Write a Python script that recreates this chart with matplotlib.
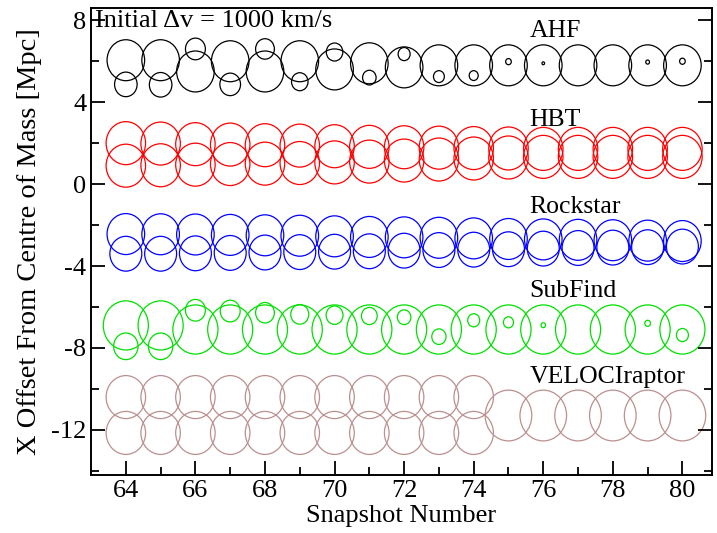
import numpy as np
import matplotlib
matplotlib.use("Agg")
import matplotlib.pyplot as plt
from matplotlib.patches import Ellipse

plt.rcParams['font.family'] = ['Liberation Serif', 'DejaVu Serif']
plt.rcParams['axes.unicode_minus'] = False

snapshots = np.arange(64, 81)
nan = np.nan

# AHF (black)
ahf_main_y = [6.05, 6.05, 5.5, 6.0, 5.5, 6.0, 5.6, 5.9, 5.7, 5.8, 5.8, 5.8, 5.8, 5.8, 5.8, 5.8, 5.8]
ahf_main_r = [1.0] * 17
ahf_sub_y = [4.87, 4.85, 6.6, 4.87, 6.6, 5.0, 6.45, 5.2, 6.35, 5.25, 5.3, 5.98, 5.9, nan, nan, 5.96, 6.0]
ahf_sub_r = [0.6, 0.6, 0.53, 0.55, 0.5, 0.44, 0.44, 0.36, 0.32, 0.29, 0.24, 0.15, 0.07, nan, nan, 0.1, 0.15]

# HBT (red)
hbt_a_y = [2.0, 1.98, 1.95, 1.93, 1.9, 1.88, 1.85, 1.82, 1.8, 1.78, 1.76, 1.74, 1.72, 1.72, 1.72, 1.72, 1.72]
hbt_a_r = [1.05] * 17
hbt_b_y = [0.9, 0.92, 0.95, 0.98, 1.0, 1.03, 1.06, 1.1, 1.15, 1.2, 1.25, 1.3, 1.33, 1.33, 1.33, 1.33, 1.33]
hbt_b_r = [1.05] * 17

# Rockstar (blue)
rock_a_y = [-2.44, -2.45, -2.46, -2.48, -2.5, -2.52, -2.55, -2.58, -2.6, -2.62, -2.65, -2.68, -2.7, -2.72, -2.74, -2.76, -2.78]
rock_a_r = [1.0] * 17
rock_b_y = [-3.4, -3.4, -3.38, -3.36, -3.34, -3.32, -3.3, -3.28, -3.25, -3.22, -3.2, -3.18, -3.15, -3.12, -3.1, -3.08, -3.05]
rock_b_r = [0.85] * 17

# SubFind (green)
sf_main_y = [-6.9, -6.9, -7.1, -7.1, -7.1, -7.1, -7.1, -7.1, -7.1, -7.1, -7.1, -7.1, -7.1, -7.1, -7.1, -7.1, -7.1]
sf_main_r = [1.2] * 17
sf_sub_y = [-7.92, -7.92, -6.16, -6.2, -6.28, -6.36, -6.4, -6.44, -6.5, -7.45, -6.65, -6.75, -6.89, nan, nan, -6.8, -7.37]
sf_sub_r = [0.65, 0.65, 0.53, 0.53, 0.5, 0.48, 0.45, 0.42, 0.36, 0.38, 0.32, 0.27, 0.12, nan, nan, 0.15, 0.32]

# VELOCIraptor (rosy brown)
vr_a_y = [-10.4] * 11 + [-11.3] * 6
vr_a_r = [1.05] * 11 + [1.24] * 6
vr_b_y = [-12.15] * 11 + [nan] * 6
vr_b_r = [1.05] * 11 + [nan] * 6

finder_names = ["AHF", "HBT", "Rockstar", "SubFind", "VELOCIraptor"]
finder_colors = ["black", "red", "blue", "#00e000", "#bc8f8f"]
label_y = [7.5, 3.15, -1.1, -5.2, -9.4]

circle_sets = [
    [(ahf_main_y, ahf_main_r), (ahf_sub_y, ahf_sub_r)],
    [(hbt_a_y, hbt_a_r), (hbt_b_y, hbt_b_r)],
    [(rock_a_y, rock_a_r), (rock_b_y, rock_b_r)],
    [(sf_main_y, sf_main_r), (sf_sub_y, sf_sub_r)],
    [(vr_a_y, vr_a_r), (vr_b_y, vr_b_r)],
]

# circles are drawn narrower in x (snapshot) than in y (Mpc)
x_per_y = 0.54

fig = plt.figure(figsize=(7.17, 5.33), dpi=100)
ax = fig.add_axes([0.127, 0.109, 0.866, 0.876])

for sets, color in zip(circle_sets, finder_colors):
    for ys, rs in sets:
        for x, y, r in zip(snapshots, ys, rs):
            if np.isnan(y):
                continue
            ax.add_patch(Ellipse((x, y), 2 * r * x_per_y, 2 * r, fill=False,
                                 edgecolor=color, lw=0.9))

for name, ly in zip(finder_names, label_y):
    ax.text(75.6, ly, name, ha='left', va='center', fontsize=18.5)

ax.text(63.1, 7.95, "Initial \u0394v = 1000 km/s", ha='left', va='center', fontsize=19)

ax.set_xlim(63, 80.85)
ax.set_ylim(-14.2, 8.6)
ax.set_xticks(np.arange(64, 81, 2))
ax.set_xticks(np.arange(63, 81, 1), minor=True)
ax.set_yticks(np.arange(-12, 9, 4))
ax.set_yticks(np.arange(-14, 9, 2), minor=True)
ax.tick_params(which='both', direction='in', top=False, right=True, labelsize=19, width=1.3)
ax.tick_params(which='major', length=10)
ax.tick_params(which='minor', length=6)
for s in ax.spines.values():
    s.set_linewidth(1.4)

ax.set_xlabel("Snapshot Number", fontsize=19, labelpad=2)
ax.set_ylabel("X Offset From Centre of Mass [Mpc]", fontsize=20.5, labelpad=6)

fig.savefig("out.png", dpi=100)
